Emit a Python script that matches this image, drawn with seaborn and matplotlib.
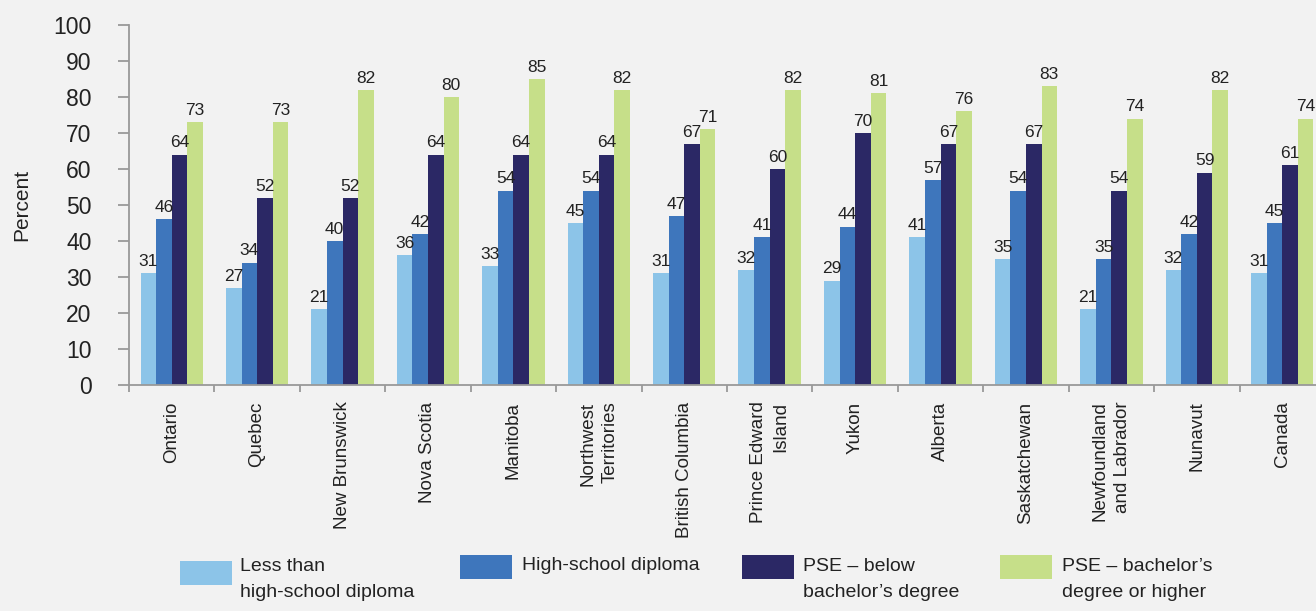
import numpy as np
import pandas as pd
import matplotlib
matplotlib.use("Agg")
import matplotlib.pyplot as plt
from matplotlib.patches import Rectangle
import seaborn as sns

# Jurisdictions (display labels) and the four education levels
regions = ["Ontario", "Quebec", "New Brunswick", "Nova Scotia", "Manitoba",
           "Northwest\nTerritories", "British Columbia", "Prince Edward\nIsland",
           "Yukon", "Alberta", "Saskatchewan", "Newfoundland\nand Labrador",
           "Nunavut", "Canada"]
levels = ["Less than\nhigh-school diploma", "High-school diploma",
          "PSE \u2013 below\nbachelor\u2019s degree",
          "PSE \u2013 bachelor\u2019s\ndegree or higher"]

less_than_hs = [31, 27, 21, 36, 33, 45, 31, 32, 29, 41, 35, 21, 32, 31]
hs_diploma = [46, 34, 40, 42, 54, 54, 47, 41, 44, 57, 54, 35, 42, 45]
pse_below_ba = [64, 52, 52, 64, 64, 64, 67, 60, 70, 67, 67, 54, 59, 61]
pse_ba_plus = [73, 73, 82, 80, 85, 82, 71, 82, 81, 76, 83, 74, 82, 74]

colors = ["#8cc4e8", "#3e76bc", "#2b2865", "#c6df89"]

series = [less_than_hs, hs_diploma, pse_below_ba, pse_ba_plus]
df = pd.DataFrame({
    "region": np.repeat([regions], 4, axis=0).ravel(),
    "level": np.repeat(levels, len(regions)),
    "value": np.concatenate(series),
})

sns.set_theme(style="white")
FONT = ["Liberation Sans Narrow", "Liberation Sans", "DejaVu Sans"]
plt.rcParams["font.family"] = FONT
bg = "#f2f2f2"
ink = "#222222"

fig = plt.figure(figsize=(13.16, 6.11), dpi=100, facecolor=bg)
ax = fig.add_axes([0.098, 0.370, 0.9088, 0.589], facecolor=bg)

sns.barplot(data=df, x="region", y="value", hue="level", order=regions,
            hue_order=levels, palette=colors, width=0.73, linewidth=0,
            saturation=1, errorbar=None, legend=False, ax=ax)

for cont in ax.containers:
    ax.bar_label(cont, fmt="%d", padding=3, fontsize=12.5, color=ink)

ax.set_ylim(0, 100)
ax.set_xlim(-0.5, len(regions) - 0.5)
ax.set_yticks(np.arange(0, 101, 10))
ax.tick_params(axis="y", labelsize=16.5, length=8, width=1.3, color="#999999",
               pad=19, direction="out", left=True, labelcolor=ink)
ax.set_xticks(np.arange(-0.5, len(regions), 1), minor=True)
ax.tick_params(axis="x", which="minor", length=5, width=1.3, color="#999999",
               direction="out", bottom=True)
ax.tick_params(axis="x", which="major", length=0, pad=12)
ax.set_xticklabels(regions, rotation=90, fontsize=13.5, ha="center", va="top",
                   multialignment="right", color=ink, linespacing=1.4)

ax.set_xlabel("")
ax.set_ylabel("Percent", fontsize=15, color=ink, labelpad=16)
for side in ["top", "right"]:
    ax.spines[side].set_visible(False)
for side in ["left", "bottom"]:
    ax.spines[side].set_color("#999999")
    ax.spines[side].set_linewidth(1.3)
ax.grid(False)

# Legend row beneath the chart
W, H = 1316.0, 611.0
legend_items = [
    (180, 561, 240, 558),
    (460, 555, 522, 557),
    (742, 555, 803, 558),
    (1000, 555, 1062, 558),
]
for (px, py, tx, ty), lab, col in zip(legend_items, levels, colors):
    fig.patches.append(Rectangle((px / W, 1 - (py + 24) / H), 52 / W, 24 / H,
                                 transform=fig.transFigure, facecolor=col,
                                 edgecolor="none"))
    fig.text(tx / W, 1 - ty / H, lab, fontsize=14, va="top", ha="left",
             color=ink, linespacing=1.7)

fig.savefig("out.png", dpi=100, facecolor=bg)
